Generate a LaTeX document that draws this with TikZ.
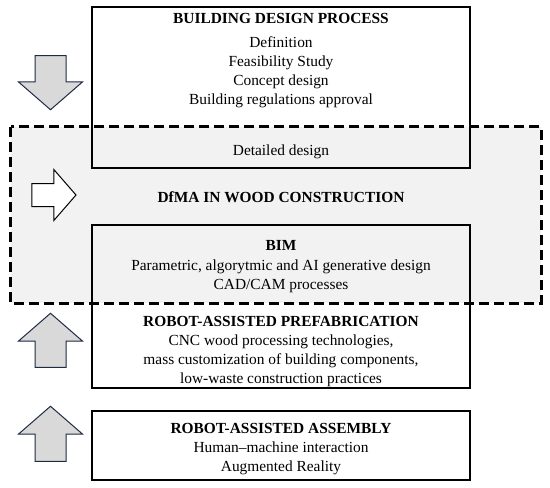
\documentclass[tikz,border=0pt]{standalone}
\usepackage{fontspec}
\setmainfont{Liberation Serif}
\usetikzlibrary{shapes.arrows, positioning}
\definecolor{regiongray}{HTML}{F2F2F2}
\definecolor{arrowgray}{HTML}{D9D9D9}
\definecolor{arrownavy}{HTML}{1F2A44}

\begin{document}
\begin{tikzpicture}[x=1pt, y=-1pt,
    stagebox/.style={draw=black, line width=1.6pt, minimum width=378pt,
      inner sep=0pt},
    region/.style={fill=regiongray, minimum width=530pt, minimum height=176pt,
      inner sep=0pt},
    regionline/.style={draw=black, line width=3pt, dash pattern=on 10pt off 5pt},
    stagetext/.style={align=center, anchor=north, inner sep=0pt,
      font=\fontsize{15.4pt}{19pt}\selectfont},
    flowarrow/.style={single arrow, draw=arrownavy, fill=arrowgray,
      line width=1pt, minimum height=54pt, minimum width=63pt, inner sep=0pt,
      inner ysep=15pt, single arrow head extend=16.5pt,
      single arrow tip angle=98} ]
    \useasboundingbox (0,0) rectangle (550,488);

    % DfMA region (fill only, border on top)
    \node[region] (dfma) at (276,215) {};

    % Stage boxes
    \node[stagebox, minimum height=161pt] (design) at (281,87.5) {};
    \node[stagebox, minimum height=163pt] (tools) at (281,306.5) {};
    \node[stagebox, minimum height=69pt] (assembly) at (281,445.5) {};

    % Dashed border of the region
    \draw[regionline] (dfma.north west) rectangle (dfma.south east);

    % Arrows
    \node[flowarrow, rotate=-90] (downarrow) at (50.5,76) {};
    \node[flowarrow, fill=white, draw=black, minimum height=44pt,
    minimum width=50pt, inner ysep=11pt, single arrow head extend=14pt]
    (rightarrow) at (49,195) {};
    \node[flowarrow, rotate=90] (uparrowa) at (50.5,347) {};
    \node[flowarrow, rotate=90, minimum height=55pt] (uparrowb) at (50.5,440.5) {};

    % Texts
    \node[stagetext] (designtext) at (281,13) {\textbf{BUILDING DESIGN
    PROCESS}\\[5pt]Definition\\Feasibility Study\\Concept design\\Building
    regulations approval};
    \node[stagetext, anchor=base] (detailtext) at (281,155) {Detailed design};
    \node[stagetext, anchor=base] (dfmatext) at (281,202) {\textbf{DfMA IN
    WOOD CONSTRUCTION}};
    \node[stagetext] (bimtext) at (281,240) {\textbf{BIM}\\[1pt]Parametric,
    algorytmic and AI generative design\\CAD/CAM processes};
    \node[stagetext] (prefabtext) at (281,316) {\textbf{ROBOT-ASSISTED
    PREFABRICATION}\\CNC wood processing technologies,\\mass customization of
    building components,\\low-waste construction practices};
    \node[stagetext] (assemblytext) at (281,423) {\textbf{ROBOT-ASSISTED
    ASSEMBLY}\\Human--machine interaction\\Augmented Reality};
\end{tikzpicture}
\end{document}
